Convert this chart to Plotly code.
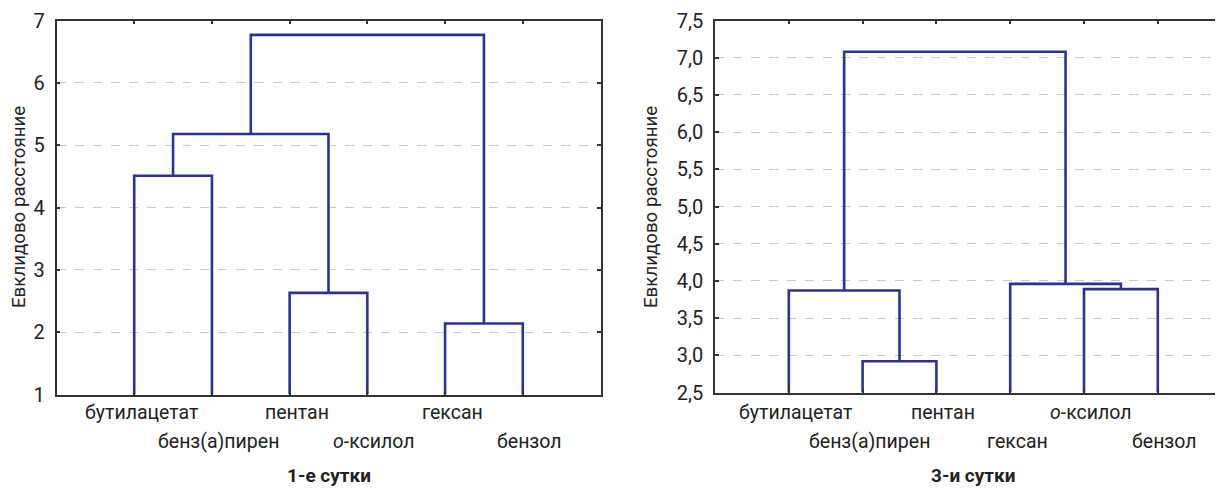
import plotly.graph_objects as go

# ---------------- data ----------------
labels_day1 = ["бутилацетат", "бенз(а)пирен", "пентан", "<i>о</i>-ксилол", "гексан", "бензол"]
# merges: (left cluster, right cluster, height); leaves are 0..5, new clusters 6,7,...
merges_day1 = [(0, 1, 4.51), (2, 3, 2.63), (4, 5, 2.14), (6, 7, 5.18), (9, 8, 6.77)]

labels_day3 = ["бутилацетат", "бенз(а)пирен", "пентан", "гексан", "<i>о</i>-ксилол", "бензол"]
merges_day3 = [(1, 2, 2.92), (0, 6, 3.87), (4, 5, 3.89), (3, 8, 3.96), (7, 9, 7.08)]

y_ticks_day1 = [1, 2, 3, 4, 5, 6, 7]
y_ticks_day3 = [2.5, 3.0, 3.5, 4.0, 4.5, 5.0, 5.5, 6.0, 6.5, 7.0, 7.5]
y_ticktext_day3 = [f"{v:.1f}".replace(".", ",") for v in y_ticks_day3]

titles = ["1-е сутки", "3-и сутки"]
y_title = "Евклидово расстояние"

LINE = "#2e3192"
FRAME = "#333333"
FONT = "Roboto, sans-serif"


def dendro_segments(n_leaves, merges, base):
    pos = {i: i + 1 for i in range(n_leaves)}
    hgt = {i: base for i in range(n_leaves)}
    xs, ys = [], []
    for k, (a, b, h) in enumerate(merges):
        xa, xb = pos[a], pos[b]
        xs += [xa, xa, xb, xb, None]
        ys += [hgt[a], h, h, hgt[b], None]
        cid = n_leaves + k
        pos[cid] = (xa + xb) / 2
        hgt[cid] = h
    return xs, ys


fig = go.Figure()

x1, y1 = dendro_segments(len(labels_day1), merges_day1, y_ticks_day1[0])
fig.add_trace(go.Scatter(x=x1, y=y1, mode="lines", line=dict(color=LINE, width=2.6),
                         xaxis="x", yaxis="y", showlegend=False, hoverinfo="skip"))
x3, y3 = dendro_segments(len(labels_day3), merges_day3, y_ticks_day3[0])
fig.add_trace(go.Scatter(x=x3, y=y3, mode="lines", line=dict(color=LINE, width=2.6),
                         xaxis="x2", yaxis="y2", showlegend=False, hoverinfo="skip"))

OFF = 8  # page body margin
W, H = 1223 - OFF, 488 - OFF


def px_x(p):
    return (p - OFF) / W


def px_y(p):
    return 1 - (p - OFF) / H


left_px = (56.5, 600.5)
right_left = 715
top_px = 20.5
bot1_px, bot3_px = 394.5, 392.5

x_common = dict(showline=True, linecolor=FRAME, linewidth=1.5, ticks="inside", ticklen=4,
                tickcolor=FRAME, tickwidth=1.5, showticklabels=False, showgrid=False,
                zeroline=False, tickvals=[1, 2, 3, 4, 5, 6], automargin=False)
y_common = dict(showline=True, linecolor=FRAME, linewidth=1.5, ticks="inside", ticklen=4,
                tickcolor=FRAME, tickwidth=1.5, showgrid=True, gridcolor="#c9c9c9",
                griddash="dash", gridwidth=1, zeroline=False, automargin=False,
                ticklabelstandoff=6,
                tickfont=dict(family=FONT, size=20, color="#222"))

fig.update_layout(
    width=W, height=H, margin=dict(l=0, r=0, t=0, b=0, autoexpand=False),
    paper_bgcolor="white", plot_bgcolor="white",
    font=dict(family=FONT, color="#222"),
    xaxis=dict(domain=[px_x(left_px[0]), px_x(left_px[1])], range=[0, 7], anchor="y",
               mirror="ticks", **x_common),
    yaxis=dict(domain=[px_y(bot1_px), px_y(top_px)], range=[1, 7], anchor="x",
               tickvals=y_ticks_day1, mirror="ticks", **y_common),
    xaxis2=dict(domain=[px_x(right_left), 1], range=[0, (1223 - right_left) / 73.8],
                anchor="y2", mirror="ticks", **x_common),
    yaxis2=dict(domain=[px_y(bot3_px), px_y(top_px)], range=[2.5, 7.5], anchor="x2",
                tickvals=y_ticks_day3, ticktext=y_ticktext_day3, mirror=False, **y_common),
)

ann = []
for labels, xr in [(labels_day1, "x"), (labels_day3, "x2")]:
    for i, lab in enumerate(labels):
        row_y = px_y(412 if i % 2 == 0 else 441)
        ann.append(dict(x=i + 1, y=row_y, xref=xr, yref="paper", text=lab, showarrow=False,
                        xanchor="center", yanchor="middle", xshift=7,
                        font=dict(family=FONT, size=19.5, color="#222")))

for t, xr in zip(titles, ["x", "x2"]):
    ann.append(dict(x=3.5, y=px_y(475), xref=xr, yref="paper", text=f"<b>{t}</b>",
                    showarrow=False, xanchor="center", yanchor="middle",
                    font=dict(family=FONT, size=19, color="#222")))

for xpx, ypx in [(19, 207), (651, 207)]:
    ann.append(dict(x=px_x(xpx), y=px_y(ypx), xref="paper", yref="paper", text=y_title,
                    textangle=-90, showarrow=False, xanchor="center", yanchor="middle",
                    font=dict(family=FONT, size=18.7, color="#222")))

fig.update_layout(annotations=ann)
fig.write_html("out.html")
